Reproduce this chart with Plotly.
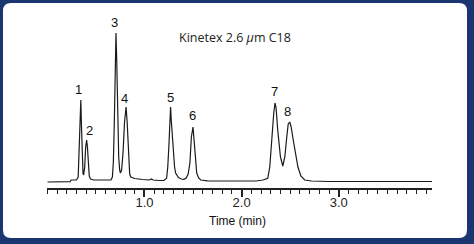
import plotly.graph_objects as go

W, H = 474, 244

# ---- data (time in min, detector signal in arbitrary units) ----
time_min = [0.00, 0.10, 0.20, 0.235, 0.245, 0.30, 0.318, 0.328, 0.338, 0.345, 0.352, 0.360, 0.368,
            0.375, 0.385, 0.395, 0.405, 0.413, 0.422, 0.432, 0.445, 0.48, 0.55, 0.62, 0.655,
            0.670, 0.680, 0.690, 0.700, 0.707, 0.715, 0.725, 0.735, 0.745, 0.752,
            0.765, 0.780, 0.795, 0.811, 0.822, 0.835, 0.848, 0.860, 0.90, 0.98, 1.05, 1.07, 1.09,
            1.15, 1.20, 1.228, 1.240, 1.251, 1.262, 1.269, 1.276, 1.287, 1.297, 1.310, 1.321,
            1.350, 1.380, 1.406, 1.430, 1.450, 1.468, 1.483, 1.500, 1.517, 1.528, 1.538, 1.558,
            1.580, 1.65, 1.80, 2.00, 2.15, 2.22, 2.269, 2.290, 2.303, 2.318, 2.331, 2.344,
            2.355, 2.372, 2.400, 2.424, 2.445, 2.465, 2.480, 2.496, 2.510, 2.535, 2.560, 2.580,
            2.610, 2.650, 2.72, 2.90, 3.30, 3.70, 3.96]
signal = [0.0, 0.0, 0.0, 0.3, 2.0, 2.0, 5.0, 30.0, 70.0, 82.0, 55.0, 15.0, 8.0,
          7.5, 15.0, 35.0, 42.0, 35.0, 15.0, 6.0, 3.0, 2.0, 2.0, 2.0, 2.0,
          5.0, 20.0, 60.0, 120.0, 149.0, 120.0, 60.0, 25.0, 12.0, 9.0,
          12.0, 30.0, 60.0, 75.0, 60.0, 25.0, 8.0, 5.0, 3.5, 2.5, 2.0, 3.0, 2.0,
          1.5, 1.5, 3.7, 15.0, 35.0, 65.0, 75.0, 62.0, 45.0, 30.0, 15.0, 9.0,
          4.5, 3.0, 2.7, 4.0, 8.0, 19.0, 45.0, 55.0, 35.0, 18.0, 9.0, 4.0,
          2.0, 1.2, 1.0, 1.0, 1.0, 2.0, 3.7, 15.0, 35.0, 55.0, 69.0, 79.0,
          74.0, 52.0, 25.0, 16.0, 25.0, 45.0, 58.0, 60.0, 55.0, 40.0, 25.0, 15.0,
          6.0, 2.0, 1.0, 0.5, 0.5, 0.5, 0.5]

peak_labels = ["1", "2", "3", "4", "5", "6", "7", "8"]
label_time = [0.322, 0.436, 0.695, 0.798, 1.269, 1.493, 2.334, 2.476]
label_signal = [93, 52, 159, 84, 85, 67, 91, 71]

tick_vals = [1.0, 2.0, 3.0]
tick_text = ["1.0", "2.0", "3.0"]
x_title = "Time (min)"
column_note = "Kinetex 2.6 <i>\u03bc</i>m C18"


def X(px):
    return px / W


def Y(py):
    return 1 - py / H


fig = go.Figure()
fig.add_trace(go.Scatter(x=time_min, y=signal, mode="lines",
                         line=dict(color="#1a1a1a", width=1.2), hoverinfo="skip",
                         showlegend=False))

for lab, t, s in zip(peak_labels, label_time, label_signal):
    fig.add_annotation(x=t, y=s, text=lab, showarrow=False, xref="x", yref="y",
                       font=dict(family="Arial, Liberation Sans", size=13, color="#111111"),
                       xanchor="center", yanchor="middle")

fig.add_annotation(x=X(237), y=Y(220.5), xref="paper", yref="paper", text=x_title,
                   showarrow=False, xanchor="center", yanchor="middle",
                   font=dict(family="Arial, Liberation Sans", size=12, color="#111111"))
fig.add_annotation(x=X(235), y=Y(37.5), xref="paper", yref="paper", text=column_note,
                   showarrow=False, xanchor="center", yanchor="middle",
                   font=dict(family="Open Sans", size=12.5, color="#222222"))

# rounded white panel on navy frame
x0, x1, y0, y1, r = 3, 467, 3, 238, 8
rx, ry = r / W, r / H
path = (f"M {X(x0)+rx},{Y(y0)} L {X(x1)-rx},{Y(y0)} Q {X(x1)},{Y(y0)} {X(x1)},{Y(y0)-ry} "
        f"L {X(x1)},{Y(y1)+ry} Q {X(x1)},{Y(y1)} {X(x1)-rx},{Y(y1)} "
        f"L {X(x0)+rx},{Y(y1)} Q {X(x0)},{Y(y1)} {X(x0)},{Y(y1)+ry} "
        f"L {X(x0)},{Y(y0)-ry} Q {X(x0)},{Y(y0)} {X(x0)+rx},{Y(y0)} Z")
fig.add_shape(type="path", path=path, xref="paper", yref="paper",
              fillcolor="white", line=dict(width=0), layer="below")

fig.update_layout(
    width=W, height=H,
    margin=dict(l=0, r=0, t=0, b=0),
    paper_bgcolor="#1a3570",
    plot_bgcolor="rgba(0,0,0,0)",
    showlegend=False,
    xaxis=dict(domain=[X(47.3), X(432)], range=[0, 3.96], showgrid=False, zeroline=False,
               showline=True, linecolor="#222222", linewidth=1.5,
               tickmode="array", tickvals=tick_vals, ticktext=tick_text,
               ticks="outside", ticklen=7, tickwidth=1.5, tickcolor="#222222",
               ticklabelstandoff=-5,
               tickfont=dict(family="Arial, Liberation Sans", size=13, color="#222222"),
               minor=dict(ticks="outside", tickmode="linear", tick0=0, dtick=0.1,
                          ticklen=4, tickwidth=1, tickcolor="#222222"),
               fixedrange=True),
    yaxis=dict(domain=[Y(188), Y(20)], range=[-6, 162], visible=False, fixedrange=True),
)

fig.write_html("out.html")
